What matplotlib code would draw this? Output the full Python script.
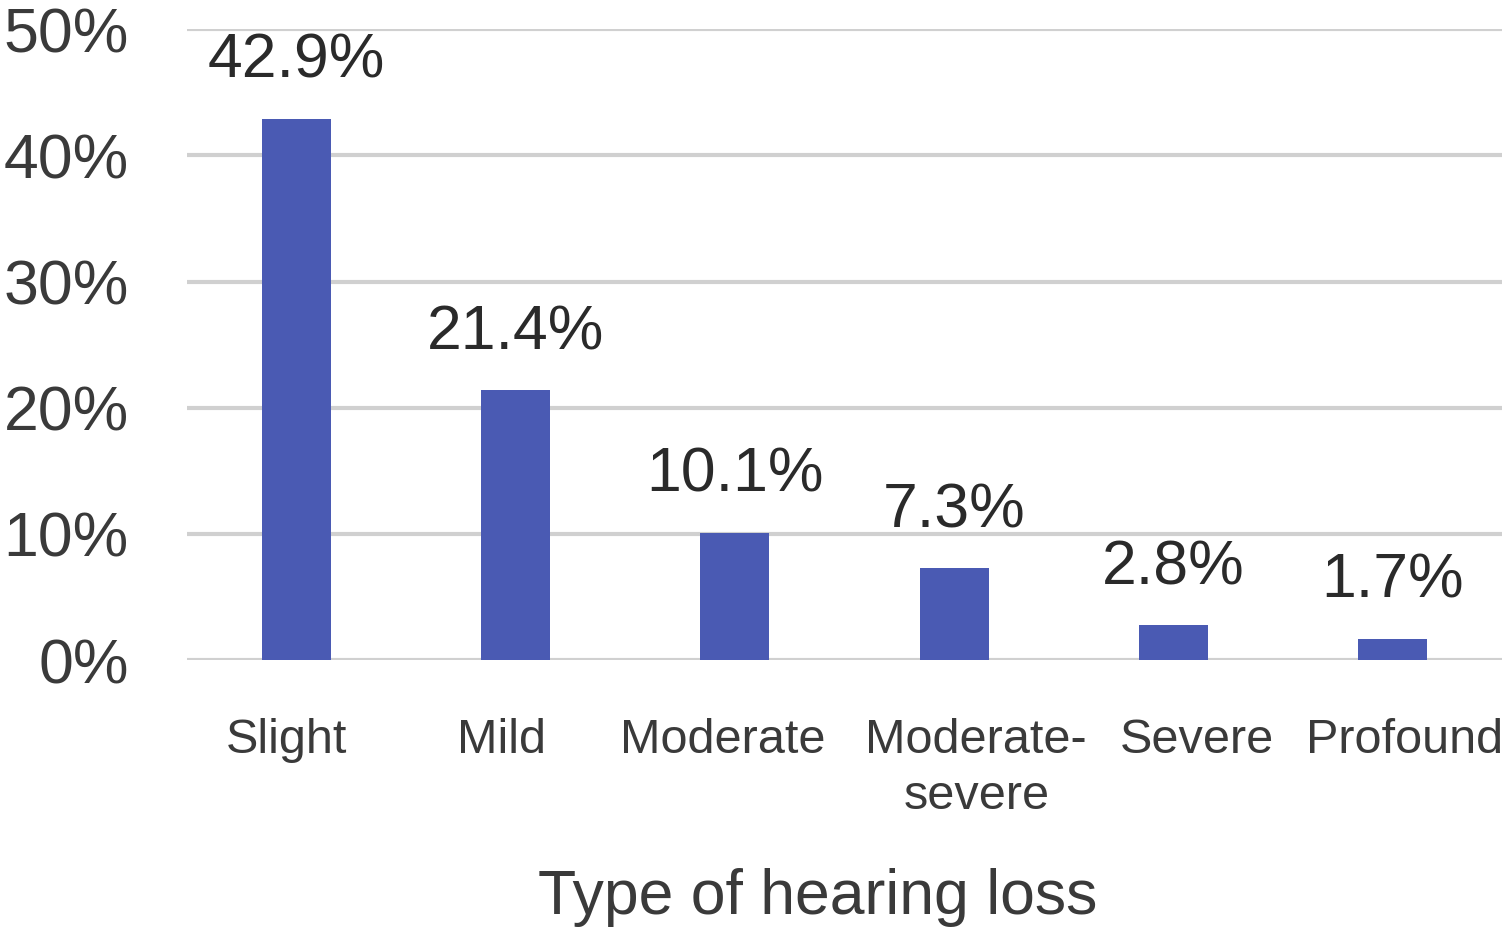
import matplotlib.pyplot as plt
from matplotlib.ticker import PercentFormatter
from matplotlib.transforms import ScaledTranslation

# --- Data ---
categories = ["Slight", "Mild", "Moderate", "Moderate-\nsevere", "Severe", "Profound"]
percent = [42.9, 21.4, 10.1, 7.3, 2.8, 1.7]
value_labels = ["42.9%", "21.4%", "10.1%", "7.3%", "2.8%", "1.7%"]

# small horizontal nudges (in points) of the category labels, as in the original
label_shift_pt = [-7, -10, -9, 16, 17, 9]

plt.rcParams["font.family"] = ["Liberation Sans", "DejaVu Sans"]

fig = plt.figure(figsize=(15.08, 9.39), dpi=100)
ax = fig.add_axes([0.124, 0.297, 0.872, 0.672])

x = range(len(categories))
bars = ax.bar(x, percent, width=0.315, color="#4A5AB3", zorder=3)
ax.bar_label(bars, labels=value_labels, padding=20, fontsize=45, color="#2a2a2a")

ax.set_xlim(-0.5, len(categories) - 0.5)
ax.set_ylim(0, 50)
ax.set_yticks([0, 10, 20, 30, 40, 50])
ax.yaxis.set_major_formatter(PercentFormatter(decimals=0))
ax.yaxis.grid(True, color="#D0D0D0", linewidth=3, zorder=0)
ax.set_axisbelow(True)
for s in ax.spines.values():
    s.set_visible(False)

ax.set_xticks(list(x))
ax.set_xticklabels(categories, fontsize=35, color="#3a3a3a", linespacing=1.3, va="top")
ax.tick_params(axis="x", length=0, pad=42)
ax.tick_params(axis="y", length=0, pad=42, labelsize=45, labelcolor="#3a3a3a")

for lab, dx in zip(ax.get_xticklabels(), label_shift_pt):
    lab.set_transform(lab.get_transform() + ScaledTranslation(dx / 72, 0, fig.dpi_scale_trans))

ax.set_xlabel("Type of hearing loss", fontsize=45, color="#3a3a3a")
ax.xaxis.set_label_coords(0.48, -0.33)

fig.savefig("out.png", dpi=100)
